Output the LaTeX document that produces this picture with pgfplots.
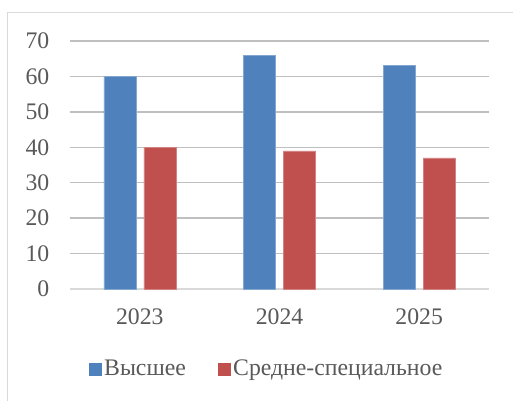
\documentclass[border=0pt]{standalone}
\usepackage{fontspec}
\setmainfont{Liberation Serif}
\usepackage{pgfplots}
\pgfplotsset{compat=1.18}
\definecolor{cblue}{HTML}{4F81BD}
\definecolor{cred}{HTML}{C0504D}
\definecolor{txt}{HTML}{595959}
\definecolor{grid}{HTML}{D9D9D9}
\begin{document}
\begin{tikzpicture}
\begin{axis}[
  at={(0,0)}, anchor=south west,
  scale only axis,
  width=314.25pt, height=186pt,
  ybar=6pt, bar width=24pt,
  xmin=-0.5, xmax=2.5,
  ymin=0, ymax=70,
  xtick={0,1,2},
  xticklabels={2023,2024,2025},
  ytick={0,10,...,70},
  ymajorgrids, xmajorgrids=false,
  major grid style={grid, line width=1pt},
  axis x line*=bottom,
  axis y line*=left,
  x axis line style={grid, line width=1pt, -},
  y axis line style={draw=none},
  major tick length=0pt,
  tick style={draw=none},
  /pgf/number format/assume math mode=true,
  ticklabel style={font=\fontsize{17.8}{20}\selectfont, text=txt},
  yticklabel style={anchor=east, xshift=-12pt},
  xticklabel style={yshift=-11pt},
  legend style={at={(0.47,-0.3226)}, anchor=center, draw=none,
    font=\fontsize{17.8}{20}\selectfont, text=txt,
    legend columns=2,
    /tikz/every even column/.append style={column sep=22pt}},
  legend cell align=left,
]
\addplot[fill=cblue, draw=cblue!70!white, line width=0.5pt,
  legend image code/.code={\fill[cblue] (0pt,-4.5pt) rectangle (9pt,4.5pt);}]
  coordinates {(0,60) (1,66) (2,63)};
\addlegendentry{Высшее}
\addplot[fill=cred, draw=cred!70!white, line width=0.5pt,
  legend image code/.code={\fill[cred] (0pt,-4.5pt) rectangle (9pt,4.5pt);}]
  coordinates {(0,40) (1,39) (2,37)};
\addlegendentry{Средне-специальное}
\end{axis}
\draw[grid, line width=0.75pt] (-46.5pt,-120pt) -- (-46.5pt,207pt) -- (340pt,207pt);
\pgfresetboundingbox
\useasboundingbox (-52.5pt,-83.25pt) rectangle (332.25pt,216.75pt);
\end{tikzpicture}
\end{document}
